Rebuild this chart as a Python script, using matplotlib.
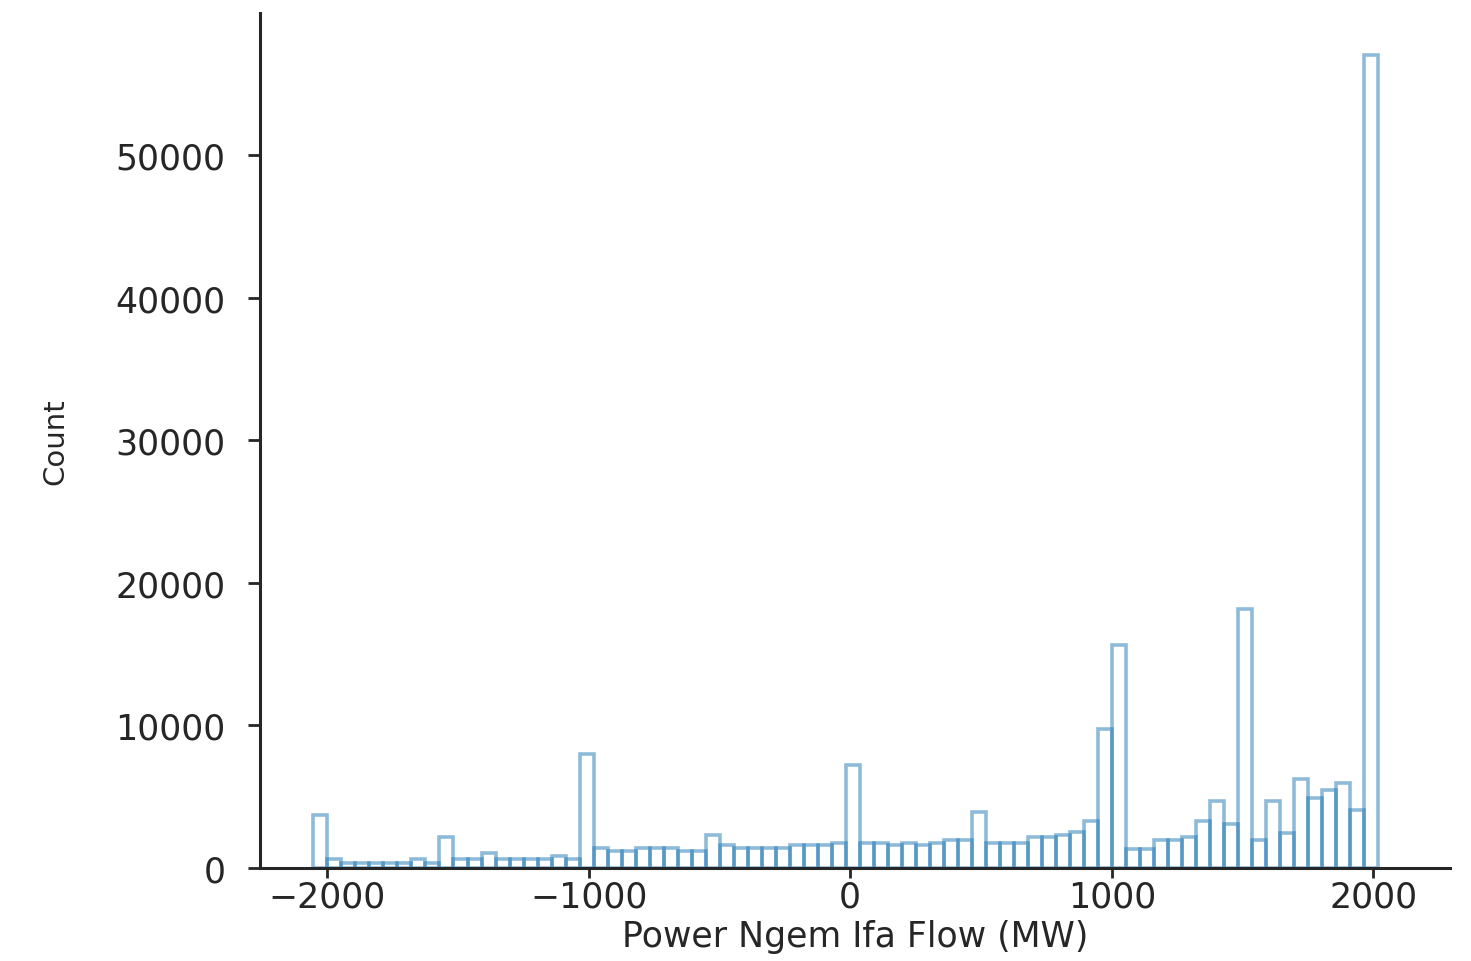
import numpy as np
import matplotlib
matplotlib.use('Agg')
import matplotlib.pyplot as plt

# histogram of the Ngem Ifa interconnector flow
bin_start = -2052   # MW, left edge of first bin
bin_stop = 2019     # MW, right edge of last bin
counts = [
    3700, 600, 370, 370, 370, 370, 370, 600, 370, 2200,
    600, 600, 1020, 600, 600, 600, 600, 820, 600, 8020,
    1400, 1215, 1215, 1400, 1400, 1400, 1215, 1215, 2340, 1590,
    1400, 1400, 1400, 1400, 1590, 1590, 1590, 1775, 7245, 1775,
    1775, 1590, 1775, 1590, 1775, 1985, 1985, 3930, 1775, 1775,
    1775, 2175, 2175, 2340, 2525, 3280, 9730, 15620, 1350, 1350,
    1940, 1940, 2175, 3280, 4700, 3065, 18140, 1940, 4700, 2480,
    6220, 4890, 5450, 5985, 4070, 57000,
]
x_label = 'Power Ngem Ifa Flow (MW)'
y_label = 'Count'

edges = np.linspace(bin_start, bin_stop, len(counts) + 1)
width = edges[1] - edges[0]

plt.rcParams['font.family'] = ['DejaVu Sans']
text_col = '#262626'

fig = plt.figure(figsize=(14.71, 9.62), dpi=100)
ax = fig.add_axes([260 / 1471, 1 - 869 / 962, 1190 / 1471, 855 / 962])

ax.bar(edges[:-1], counts, width=width, align='edge', fill=False,
       edgecolor='#1f77b4', alpha=0.5, linewidth=2.6)

ax.set_xlim(-2256, 2293)
ax.set_ylim(0, 59958)
ax.set_xticks([-2000, -1000, 0, 1000, 2000])
ax.set_yticks([0, 10000, 20000, 30000, 40000, 50000])

for side in ['top', 'right']:
    ax.spines[side].set_visible(False)
for side in ['left', 'bottom']:
    ax.spines[side].set_linewidth(2.2)
    ax.spines[side].set_color(text_col)

ax.tick_params(axis='x', length=7, width=2, pad=1, labelsize=25,
               colors=text_col)
ax.tick_params(axis='y', length=9, width=2, pad=16, labelsize=25,
               colors=text_col)

ax.set_xlabel(x_label, fontsize=25, color=text_col)
ax.set_ylabel(y_label, fontsize=21, color=text_col)
ax.xaxis.set_label_coords(0.5, -0.06)
ax.yaxis.set_label_coords(-0.16, 0.5)

plt.savefig('out.png', dpi=100)
